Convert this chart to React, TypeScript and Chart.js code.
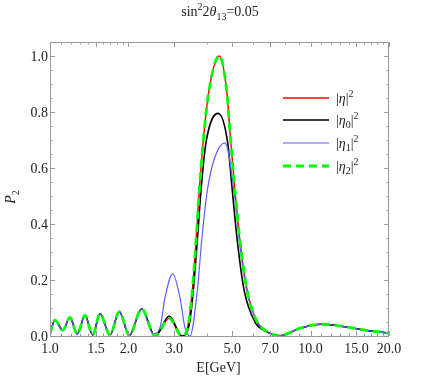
import React, { useEffect, useRef } from "react";
import { Chart, registerables } from "chart.js";
Chart.register(...registerables);

// ---- data ----
const energyEta = [1.0, 1.045, 1.119, 1.193, 1.273, 1.362, 1.458, 1.556, 1.699, 1.845, 2.015, 2.248, 2.53, 2.87, 3.2, 3.395, 3.516, 3.634, 3.74, 3.876, 4.075, 4.465, 4.764, 4.936, 5.128, 5.359, 5.716, 6.2, 6.7, 7.63, 9.11, 11.03, 13.75, 16.41, 20];
const probEta = [0.008, 0.057, 0.02, 0.066, 0.007, 0.074, 0.004, 0.08, 0.003, 0.087, 0.002, 0.097, 0.0, 0.063, 0.0, 0.042, 0.161, 0.34, 0.519, 0.698, 0.877, 1.0, 0.877, 0.698, 0.519, 0.34, 0.161, 0.055, 0.02, 0.001, 0.028, 0.042, 0.032, 0.02, 0.01];

const energyEta0 = [1.0, 1.045, 1.119, 1.193, 1.273, 1.362, 1.458, 1.556, 1.699, 1.845, 2.015, 2.248, 2.53, 2.87, 3.21, 3.424, 3.547, 3.675, 3.797, 3.968, 4.42, 4.808, 5.008, 5.234, 5.566, 6.12, 6.7, 7.63, 9.11, 11.03, 13.75, 16.41, 20];
const probEta0 = [0.008, 0.057, 0.02, 0.066, 0.007, 0.074, 0.004, 0.08, 0.003, 0.087, 0.002, 0.097, 0.0, 0.071, 0.0, 0.042, 0.161, 0.34, 0.519, 0.69, 0.795, 0.69, 0.519, 0.34, 0.161, 0.05, 0.018, 0.001, 0.028, 0.042, 0.032, 0.02, 0.01];

const energyEta1 = [1.0, 1.045, 1.119, 1.193, 1.273, 1.362, 1.458, 1.556, 1.699, 1.845, 2.015, 2.248, 2.49, 2.643, 2.763, 2.957, 3.154, 3.296, 3.445, 3.675, 3.82, 4.015, 4.298, 4.694, 5.083, 5.327, 5.686, 6.2, 6.7, 7.63, 9.11, 11.03, 13.75, 16.41, 20];
const probEta1 = [0.008, 0.057, 0.02, 0.066, 0.007, 0.074, 0.004, 0.08, 0.003, 0.087, 0.002, 0.097, 0.008, 0.03, 0.137, 0.222, 0.137, 0.03, 0.0, 0.161, 0.34, 0.519, 0.64, 0.69, 0.519, 0.34, 0.161, 0.055, 0.02, 0.001, 0.028, 0.042, 0.032, 0.02, 0.01];

const energyEta2 = energyEta;
const probEta2 = probEta;

const xTickValues = [1, 1.5, 2, 3, 5, 7, 10, 15, 20];
const xTickLabels = ["1.0", "1.5", "2.0", "3.0", "5.0", "7.0", "10.0", "15.0", "20.0"];
const xMinorTicks = [1.1, 1.2, 1.3, 1.4, 1.6, 1.7, 1.8, 1.9, 4, 6, 8, 9, 11, 12, 13, 14, 16, 17, 18, 19];
const yTickValues = [0, 0.2, 0.4, 0.6, 0.8, 1.0];
const yTickLabels = ["0.0", "0.2", "0.4", "0.6", "0.8", "1.0"];
const yMinorTicks = [0.05, 0.1, 0.15, 0.25, 0.3, 0.35, 0.45, 0.5, 0.55, 0.65, 0.7, 0.75, 0.85, 0.9, 0.95, 1.05];

type Seg = { t: string; it?: boolean; sub?: boolean; sup?: boolean };
const FONT = '"Liberation Serif", "Times New Roman", serif';

const titleSegs: Seg[] = [{ t: "sin" }, { t: "2", sup: true }, { t: "2" }, { t: "θ", it: true }, { t: "13", sub: true }, { t: "=0.05" }];
const xTitleSegs: Seg[] = [{ t: "E[GeV]" }];
const yTitleSegs: Seg[] = [{ t: "P", it: true }, { t: "2", sub: true }];
const legendLabels: Seg[][] = [
  [{ t: "|" }, { t: "η", it: true }, { t: "|" }, { t: "2", sup: true }],
  [{ t: "|" }, { t: "η", it: true }, { t: "0", sub: true }, { t: "|" }, { t: "2", sup: true }],
  [{ t: "|" }, { t: "η", it: true }, { t: "1", sub: true }, { t: "|" }, { t: "2", sup: true }],
  [{ t: "|" }, { t: "η", it: true }, { t: "2", sub: true }, { t: "|" }, { t: "2", sup: true }],
];

function segFont(s: Seg, size: number) {
  const sz = s.sub || s.sup ? Math.round(size * 0.7) : size;
  return `${s.it ? "italic " : ""}${sz}px ${FONT}`;
}
function drawRich(ctx: CanvasRenderingContext2D, segs: Seg[], x: number, y: number, size: number, align: "left" | "center") {
  let total = 0;
  const ws = segs.map((s) => {
    ctx.font = segFont(s, size);
    const w = ctx.measureText(s.t).width;
    total += w;
    return w;
  });
  let cx = align === "center" ? x - total / 2 : x;
  ctx.textAlign = "left";
  ctx.textBaseline = "alphabetic";
  segs.forEach((s, i) => {
    ctx.font = segFont(s, size);
    const dy = s.sub ? size * 0.28 : s.sup ? -size * 0.42 : 0;
    ctx.fillText(s.t, cx, y + dy);
    cx += ws[i];
  });
}

const toPoints = (xs: number[], ys: number[]) => xs.map((x, i) => ({ x, y: ys[i] }));

const seriesStyles = [
  { color: "rgb(255,0,0)", width: 1.4, dash: [] as number[] },
  { color: "rgb(0,0,0)", width: 1.6, dash: [] as number[] },
  { color: "rgb(95,95,255)", width: 1.2, dash: [] as number[] },
  { color: "rgb(0,255,0)", width: 2.8, dash: [8, 5] },
];

const framePlugin = {
  id: "framePlugin",
  afterDraw(chart: any) {
    const ctx: CanvasRenderingContext2D = chart.ctx;
    const { left, right, top, bottom } = chart.chartArea;
    const xs = chart.scales.x;
    const ys = chart.scales.y;
    ctx.save();
    ctx.strokeStyle = "#9a9a9a";
    ctx.lineWidth = 1;
    ctx.strokeRect(Math.round(left) + 0.5, Math.round(top) + 0.5, Math.round(right - left) - 1, Math.round(bottom - top));
    ctx.beginPath();
    const tick = (v: number, len: number) => {
      const px = Math.round(xs.getPixelForValue(v)) + 0.5;
      ctx.moveTo(px, bottom);
      ctx.lineTo(px, bottom - len);
      ctx.moveTo(px, top);
      ctx.lineTo(px, top + len);
    };
    xTickValues.forEach((v) => tick(v, 5));
    xMinorTicks.forEach((v) => tick(v, 2.5));
    const ytick = (v: number, len: number) => {
      const py = Math.round(ys.getPixelForValue(v)) + 0.5;
      ctx.moveTo(left, py);
      ctx.lineTo(left + len, py);
      ctx.moveTo(right, py);
      ctx.lineTo(right - len, py);
    };
    yTickValues.forEach((v) => ytick(v, 5));
    yMinorTicks.forEach((v) => ytick(v, 2.5));
    ctx.stroke();

    ctx.fillStyle = "#222";
    ctx.font = `14px ${FONT}`;
    ctx.textBaseline = "alphabetic";
    ctx.textAlign = "center";
    xTickValues.forEach((v, i) => ctx.fillText(xTickLabels[i], xs.getPixelForValue(v), bottom + 17));
    ctx.textAlign = "right";
    yTickValues.forEach((v, i) => ctx.fillText(yTickLabels[i], left - 2, ys.getPixelForValue(v) + 4.7));

    drawRich(ctx, titleSegs, 220, 16, 14, "center");
    drawRich(ctx, xTitleSegs, (left + right) / 2 - 1, 372, 14, "center");
    ctx.save();
    ctx.translate(15, 197);
    ctx.rotate(-Math.PI / 2);
    drawRich(ctx, yTitleSegs, 0, 0, 14, "center");
    ctx.restore();

    // legend
    const legY = [98, 120, 143, 166];
    legY.forEach((ly, i) => {
      const st = seriesStyles[i];
      ctx.save();
      ctx.strokeStyle = st.color;
      ctx.lineWidth = st.width;
      ctx.setLineDash(st.dash);
      ctx.beginPath();
      ctx.moveTo(283, ly);
      ctx.lineTo(329, ly);
      ctx.stroke();
      ctx.restore();
      ctx.fillStyle = "#222";
      drawRich(ctx, legendLabels[i], 336, ly + 4.5, 14, "left");
    });
    ctx.restore();
  },
};

export default function App() {
  const ref = useRef<HTMLCanvasElement | null>(null);
  useEffect(() => {
    if (!ref.current) return;
    const mk = (idx: number, xs: number[], ys: number[], label: string) => ({
      label,
      data: toPoints(xs, ys),
      borderColor: seriesStyles[idx].color,
      borderWidth: seriesStyles[idx].width,
      borderDash: seriesStyles[idx].dash,
      pointRadius: 0,
      fill: false,
      cubicInterpolationMode: "monotone" as const,
    });
    const chart = new Chart(ref.current, {
      type: "line",
      data: {
        datasets: [
          mk(3, energyEta2, probEta2, "|η2|²"),
          mk(2, energyEta1, probEta1, "|η1|²"),
          mk(1, energyEta0, probEta0, "|η0|²"),
          mk(0, energyEta, probEta, "|η|²"),
        ],
      },
      options: {
        animation: false,
        responsive: false,
        layout: { padding: { left: 50, right: 47, top: 42, bottom: 46 } },
        plugins: { legend: { display: false }, tooltip: { enabled: false }, title: { display: false } },
        scales: {
          x: { type: "logarithmic", min: 1, max: 20, display: false },
          y: { type: "linear", min: 0, max: 1.05, display: false },
        },
      },
      plugins: [framePlugin],
    });
    return () => chart.destroy();
  }, []);
  return (
    <div style={{ position: "absolute", left: 0, top: 0, width: 436, height: 382, background: "#fff" }}>
      <canvas ref={ref} width={436} height={382} style={{ width: 436, height: 382, display: "block" }} />
    </div>
  );
}
